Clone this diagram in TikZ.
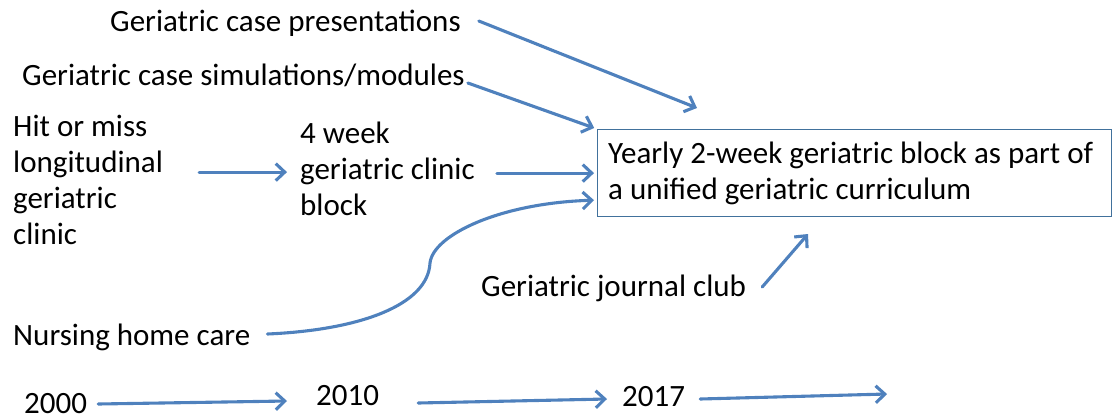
\documentclass[tikz,border=0pt]{standalone}
\usepackage{fontspec}
\setmainfont{Carlito}
\usetikzlibrary{arrows.meta,calc}
\definecolor{arrowblue}{RGB}{79,129,189}
\definecolor{boxblue}{RGB}{65,113,156}
\begin{document}
\begin{tikzpicture}[x=1pt,y=-1pt,
  txt/.style={inner sep=0pt, font=\fontsize{31}{36}\selectfont, align=left},
  arr/.style={draw=arrowblue, line width=3.1pt, line cap=round, -{Straight Barb[length=9pt,width=17pt]}},
  goalbox/.style={draw=boxblue, line width=1.2pt, minimum width=514pt, minimum height=87pt, inner sep=0pt}]
\useasboundingbox (0,0) rectangle (1113,418);

% text nodes
\node[txt, anchor=base west] (pres) at (110,31) {Geriatric case presentations};
\node[txt, anchor=base west] (sim) at (22,85) {Geriatric case simulations/modules};
\node[txt, anchor=north west] (hit) at (13,115) {Hit or miss\\longitudinal\\geriatric\\clinic};
\node[txt, anchor=north west] (four) at (300,122) {4 week\\geriatric clinic\\block};
\node[goalbox, anchor=north west] (goal) at (597,129) {};
\node[txt, anchor=north west] (goaltxt) at (608,142) {Yearly 2-week geriatric block as part of\\a unified geriatric curriculum};
\node[txt, anchor=base west] (nursing) at (13,345) {Nursing home care};
\node[txt, anchor=base west] (journal) at (481,296) {Geriatric journal club};
\node[txt, anchor=base west] (y2000) at (24,413) {2000};
\node[txt, anchor=base west] (y2010) at (316,405) {2010};
\node[txt, anchor=base west] (y2017) at (622,406) {2017};

% free ends
\coordinate (t1) at (697,108);
\coordinate (t5) at (808,234);
\coordinate (t6) at (887,394);

% connectors
\draw[arr] ($(pres.base east)+(18,-10)$) -- (t1);
\draw[arr, shorten >=3pt] ($(sim.base east)+(3,-2)$) -- (goal.north west);
\draw[arr] ($(hit.east |- goal.west)+(36,-1)$) -- ($(four.west |- goal.west)+(-13,-1)$);
\draw[arr, shorten >=3pt] ($(four.east |- goal.west)+(22,0)$) -- (goal.west);
\draw[arr, shorten >=3pt] ($(nursing.base east)+(17,-11)$) .. controls (360,330) and (428,305) .. (430,263)
   .. controls (433,235) and (500,203) .. ($(goal.west)+(0,27)$);
\draw[arr] ($(journal.base east)+(16,-9)$) -- (t5);
\draw[arr] ($(y2000.base east)+(11,-9)$) -- ($(y2010.base west)+(-29,-4)$);
\draw[arr] ($(y2010.base east)+(39,-2)$) -- ($(y2017.base west)+(-15,-7)$);
\draw[arr] ($(y2017.base east)+(15,-7)$) -- (t6);
\end{tikzpicture}
\end{document}
